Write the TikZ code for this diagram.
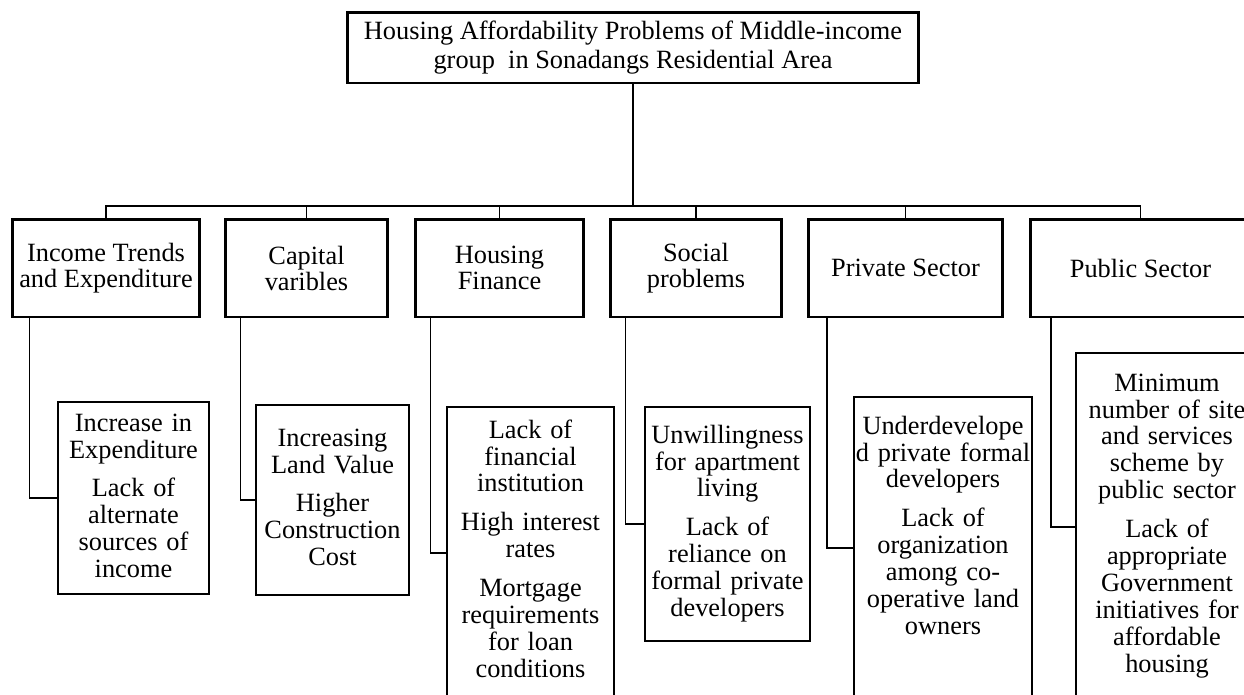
\documentclass[tikz,border=0pt]{standalone}
\usepackage{fontspec}
\setmainfont{Liberation Serif}
\usetikzlibrary{positioning,calc}
\tikzset{font=\fontsize{15}{15.35}\selectfont}
\tikzset{
	headbox/.style={draw, line width=1.7pt, align=center, inner sep=1pt},
	catbox/.style={draw, line width=1.7pt, align=center, minimum height=1.96cm, inner sep=1pt, font=\fontsize{15}{14.8}\selectfont},
	causebox/.style={draw, line width=1.2pt, align=center, anchor=north, inner xsep=0pt, inner ysep=0pt},
	link/.style={line width=1.1pt}
}
\newcommand{\itemgap}{\\[6.8pt]}

\begin{document}
\begin{tikzpicture}[x=0.02cm, y=-0.02cm]
	\useasboundingbox (0,0) rectangle (1244,694);
	\clip (0,0) rectangle (1244,694);
	\begin{scope}
		\node[headbox, minimum width=11.44cm, minimum height=1.42cm, font=\fontsize{15}{16.4}\selectfont] (title) at (633,47.5) {Housing Affordability Problems of Middle-income\\group\ \ in Sonadangs Residential Area};

		\node[catbox, minimum width=3.76cm] (income) at (106,268) {Income Trends\\and Expenditure};
		\node[catbox, minimum width=3.26cm] (capital) at (306.5,268) {Capital\\varibles};
		\node[catbox, minimum width=3.38cm] (finance) at (499.5,268) {Housing\\Finance};
		\node[catbox, minimum width=3.44cm] (social) at (696,268) {Social\\problems};
		\node[catbox, minimum width=3.9cm] (private) at (905.5,268) {Private Sector};
		\node[catbox, minimum width=4.42cm] (public) at (1140.5,268) {Public Sector};

		\node[causebox, text width=3.02cm, text height=0.58cm, text depth=3.26cm] (expend) at (133.5,401) {Increase in\\Expenditure\itemgap Lack of\\alternate\\sources of\\income};
		\node[causebox, text width=3.06cm, text height=0.82cm, text depth=2.98cm] (landval) at (332.5,404) {Increasing\\Land Value\itemgap Higher\\Construction\\Cost};
		\node[causebox, text width=3.34cm, text height=0.62cm, text depth=5.2cm] (loans) at (530.5,406) {Lack of\\financial\\institution\itemgap High interest\\rates\itemgap Mortgage\\requirements\\for loan\\conditions};
		\node[causebox, text width=3.3cm, text height=0.72cm, text depth=3.96cm] (living) at (727.5,406) {Unwillingness\\for apartment\\living\itemgap Lack of\\reliance on\\formal private\\developers};
		\node[causebox, text width=3.56cm, text height=0.74cm, text depth=5.3cm] (devel) at (943,396) {Underdevelope\\d private formal\\developers\itemgap Lack of\\organization\\among co-\\operative land\\owners};
		\node[causebox, text width=3.64cm, text height=0.76cm, text depth=6.2cm] (scheme) at (1167,352) {Minimum\\number of site\\and services\\scheme by\\public sector\itemgap Lack of\\appropriate\\Government\\initiatives for\\affordable\\housing};

		\coordinate (bar) at (633,206);
		\draw[line width=1.5pt] (title.south) -- (bar);
		\draw[link] (income.north) |- (bar) -| (public.north);
		\draw[link] (capital.north) -- (capital.north |- bar);
		\draw[link] (finance.north) -- (finance.north |- bar);
		\draw[link] (social.north) -- (social.north |- bar);
		\draw[link] (private.north) -- (private.north |- bar);

		\draw[link] ($(income.south west)+(19,0)$) |- (expend.west);
		\draw[link] ($(capital.south west)+(17,0)$) |- (landval.west);
		\draw[link] ($(finance.south west)+(17,0)$) |- (loans.west);
		\draw[link] ($(social.south west)+(17,0)$) |- (living.west);
		\draw[link] ($(private.south west)+(20,0)$) |- (devel.west);
		\draw[link] ($(public.south west)+(22,0)$) |- (scheme.west);
	\end{scope}
\end{tikzpicture}
\end{document}
